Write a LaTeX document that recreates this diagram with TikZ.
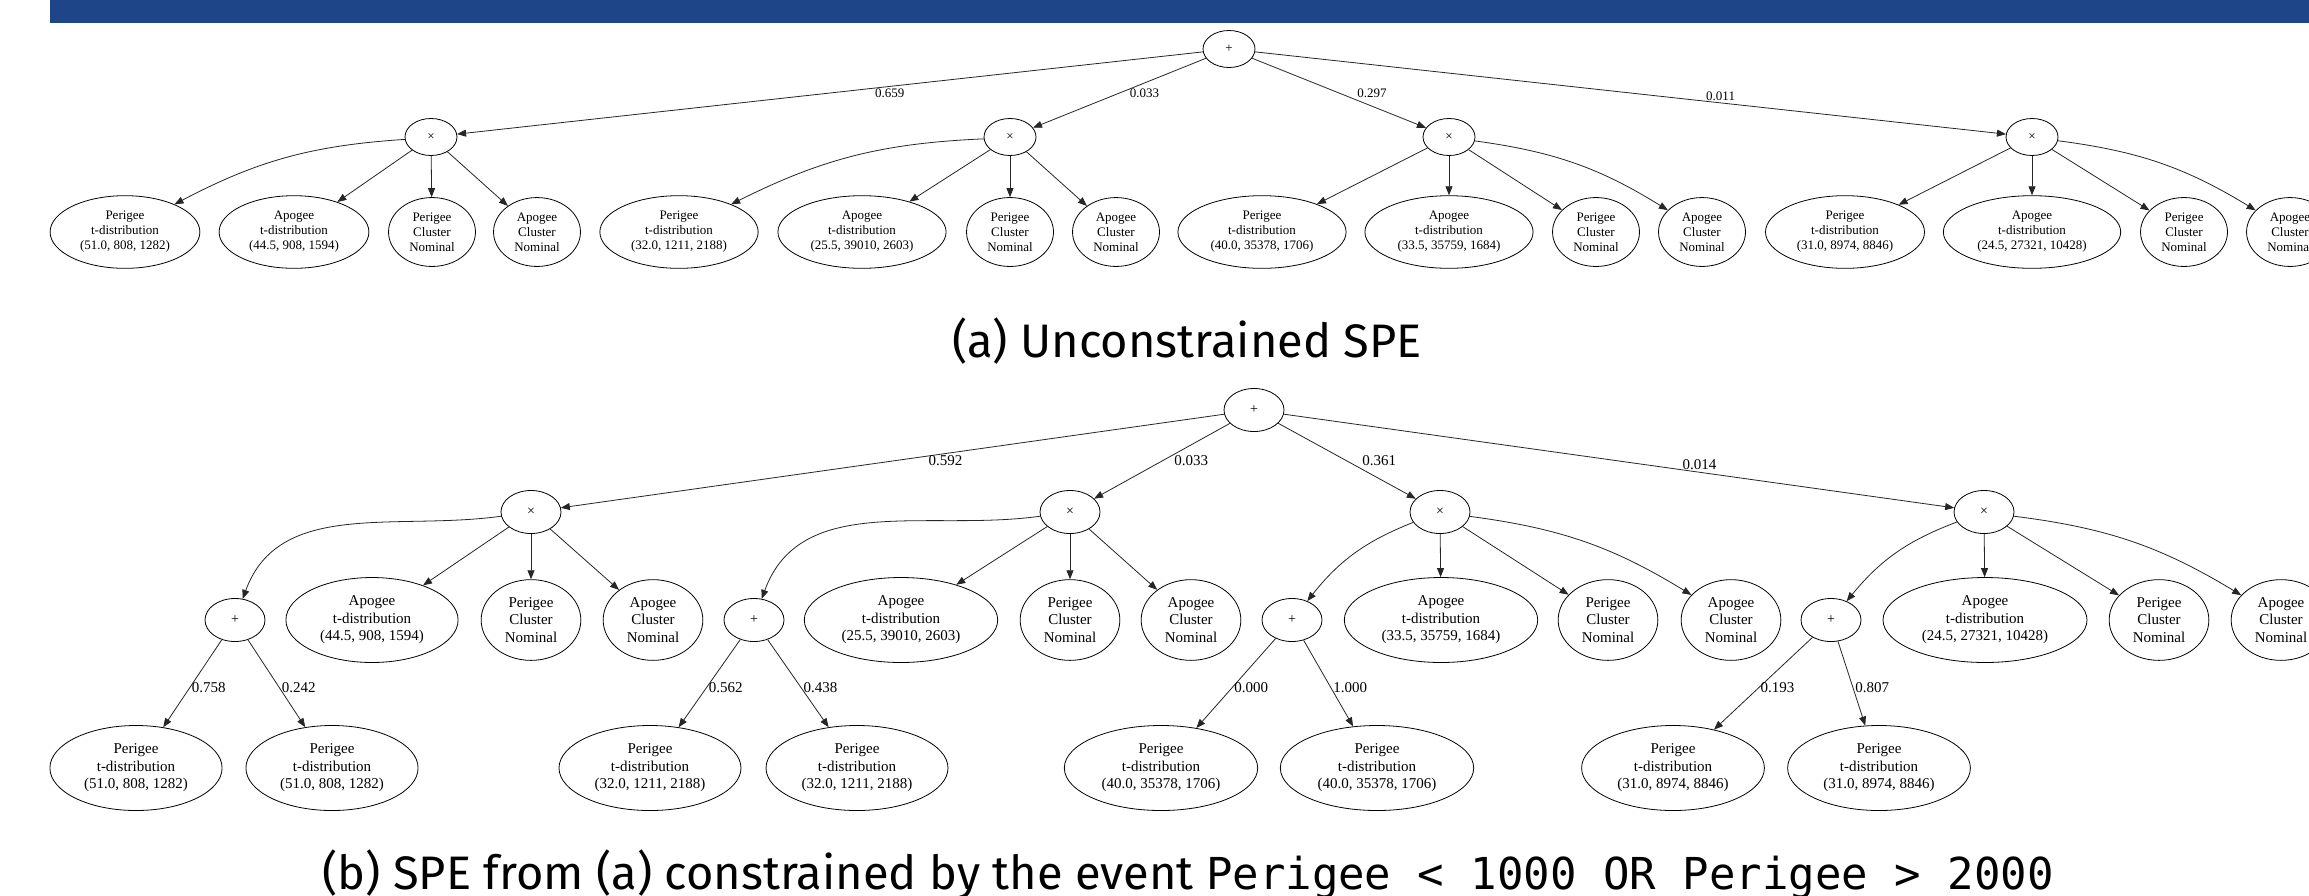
\documentclass[tikz,border=0pt]{standalone}
\usepackage{fontspec}
\setmainfont{Liberation Serif}
\setsansfont{Fira Sans}
\setmonofont{DejaVu Sans Mono}
\usetikzlibrary{arrows.meta, shapes.geometric}
\definecolor{barblue}{RGB}{31,69,137}

\begin{document}
\begin{tikzpicture}[
        x=1pt, y=-1pt,
        >={Triangle[length=9pt, width=7pt]},
        edg/.style={->, line width=0.8pt, draw=black!85},
        opa/.style={draw, ellipse, line width=0.8pt, minimum width=52pt, minimum height=37pt, inner sep=0pt, font=\fontsize{13}{15}\selectfont},
        leafa/.style={draw, ellipse, line width=0.8pt, align=center, inner xsep=8pt, inner ysep=5pt, font=\fontsize{13}{15}\selectfont},
        lbla/.style={font=\fontsize{13}{15}\selectfont, inner sep=2pt},
        opb/.style={opa, minimum width=60pt, minimum height=43pt, font=\fontsize{14}{16}\selectfont},
        leafb/.style={leafa, inner xsep=9pt, inner ysep=6pt, font=\fontsize{15}{17.5}\selectfont},
        lblb/.style={font=\fontsize{15}{17}\selectfont, inner sep=2pt},
        capt/.style={font=\sffamily\fontsize{47}{52}\selectfont, anchor=base, inner sep=0pt}
    ]
        \clip (0,0) rectangle (2309,895);
        \fill[white] (0,0) rectangle (2309,895);
        \fill[barblue] (50,0) rectangle (2309,23);

        % --- (a) unconstrained ---
        \node[opa] (suma) at (1229,49) {+};
        \node[opa] (proda1) at (431,137) {×};
        \node[opa] (proda2) at (1010,137) {×};
        \node[opa] (proda3) at (1449,137) {×};
        \node[opa] (proda4) at (2032,137) {×};

        \draw[edg] (suma) -- node[lbla, pos=0.42, below] {0.659} (proda1);
        \draw[edg] (suma) -- node[lbla, pos=0.5, right=8pt] {0.033} (proda2);
        \draw[edg] (suma) -- node[lbla, pos=0.5, right=16pt] {0.297} (proda3);
        \draw[edg] (suma) -- node[lbla, pos=0.62, above] {0.011} (proda4);

        \node[leafa] (a1pt) at (125,232) {Perigee\\t-distribution\\(51.0, 808, 1282)};
        \node[leafa] (a1at) at (294,232) {Apogee\\t-distribution\\(44.5, 908, 1594)};
        \node[leafa] (a1pc) at (432,232) {Perigee\\Cluster\\Nominal};
        \node[leafa] (a1ac) at (537,232) {Apogee\\Cluster\\Nominal};
        \node[leafa] (a2pt) at (679,232) {Perigee\\t-distribution\\(32.0, 1211, 2188)};
        \node[leafa] (a2at) at (862,232) {Apogee\\t-distribution\\(25.5, 39010, 2603)};
        \node[leafa] (a2pc) at (1010,232) {Perigee\\Cluster\\Nominal};
        \node[leafa] (a2ac) at (1116,232) {Apogee\\Cluster\\Nominal};
        \node[leafa] (a3pt) at (1262,232) {Perigee\\t-distribution\\(40.0, 35378, 1706)};
        \node[leafa] (a3at) at (1449,232) {Apogee\\t-distribution\\(33.5, 35759, 1684)};
        \node[leafa] (a3pc) at (1596,232) {Perigee\\Cluster\\Nominal};
        \node[leafa] (a3ac) at (1702,232) {Apogee\\Cluster\\Nominal};
        \node[leafa] (a4pt) at (1845,232) {Perigee\\t-distribution\\(31.0, 8974, 8846)};
        \node[leafa] (a4at) at (2032,232) {Apogee\\t-distribution\\(24.5, 27321, 10428)};
        \node[leafa] (a4pc) at (2184,232) {Perigee\\Cluster\\Nominal};
        \node[leafa] (a4ac) at (2290,232) {Apogee\\Cluster\\Nominal};

        \draw[edg] (proda1) to[bend right=12] (a1pt);
        \draw[edg] (proda1) -- (a1at);
        \draw[edg] (proda1) -- (a1pc);
        \draw[edg] (proda1) -- (a1ac);
        \draw[edg] (proda2) to[bend right=12] (a2pt);
        \draw[edg] (proda2) -- (a2at);
        \draw[edg] (proda2) -- (a2pc);
        \draw[edg] (proda2) -- (a2ac);
        \draw[edg] (proda3) -- (a3pt);
        \draw[edg] (proda3) -- (a3at);
        \draw[edg] (proda3) -- (a3pc);
        \draw[edg] (proda3) to[bend left=12] (a3ac);
        \draw[edg] (proda4) -- (a4pt);
        \draw[edg] (proda4) -- (a4at);
        \draw[edg] (proda4) -- (a4pc);
        \draw[edg] (proda4) to[bend left=12] (a4ac);

        \node[capt] (capa) at (1187,357) {(a) Unconstrained SPE};

        % --- (b) constrained ---
        \node[opb] (sumb) at (1254,410) {+};
        \node[opb] (prodb1) at (531,512) {×};
        \node[opb] (prodb2) at (1070,512) {×};
        \node[opb] (prodb3) at (1440,512) {×};
        \node[opb] (prodb4) at (1984,512) {×};

        \draw[edg] (sumb) -- node[lblb, pos=0.42, below] {0.592} (prodb1);
        \draw[edg] (sumb) -- node[lblb, pos=0.5, right=10pt] {0.033} (prodb2);
        \draw[edg] (sumb) -- node[lblb, pos=0.5, right=13pt] {0.361} (prodb3);
        \draw[edg] (sumb) -- node[lblb, pos=0.62, above] {0.014} (prodb4);

        \node[opb] (mixb1) at (235,620) {+};
        \node[leafb] (b1at) at (372,620) {Apogee\\t-distribution\\(44.5, 908, 1594)};
        \node[leafb] (b1pc) at (531,620) {Perigee\\Cluster\\Nominal};
        \node[leafb] (b1ac) at (653,620) {Apogee\\Cluster\\Nominal};
        \node[opb] (mixb2) at (754,620) {+};
        \node[leafb] (b2at) at (901,620) {Apogee\\t-distribution\\(25.5, 39010, 2603)};
        \node[leafb] (b2pc) at (1070,620) {Perigee\\Cluster\\Nominal};
        \node[leafb] (b2ac) at (1191,620) {Apogee\\Cluster\\Nominal};
        \node[opb] (mixb3) at (1292,620) {+};
        \node[leafb] (b3at) at (1441,620) {Apogee\\t-distribution\\(33.5, 35759, 1684)};
        \node[leafb] (b3pc) at (1608,620) {Perigee\\Cluster\\Nominal};
        \node[leafb] (b3ac) at (1731,620) {Apogee\\Cluster\\Nominal};
        \node[opb] (mixb4) at (1831,620) {+};
        \node[leafb] (b4at) at (1985,620) {Apogee\\t-distribution\\(24.5, 27321, 10428)};
        \node[leafb] (b4pc) at (2159,620) {Perigee\\Cluster\\Nominal};
        \node[leafb] (b4ac) at (2281,620) {Apogee\\Cluster\\Nominal};

        \draw[edg] (prodb1) to[out=188, in=70] (mixb1);
        \draw[edg] (prodb1) -- (b1at);
        \draw[edg] (prodb1) -- (b1pc);
        \draw[edg] (prodb1) -- (b1ac);
        \draw[edg] (prodb2) to[out=188, in=70] (mixb2);
        \draw[edg] (prodb2) -- (b2at);
        \draw[edg] (prodb2) -- (b2pc);
        \draw[edg] (prodb2) -- (b2ac);
        \draw[edg] (prodb3) to[bend right=15] (mixb3);
        \draw[edg] (prodb3) -- (b3at);
        \draw[edg] (prodb3) -- (b3pc);
        \draw[edg] (prodb3) to[bend left=12] (b3ac);
        \draw[edg] (prodb4) to[bend right=15] (mixb4);
        \draw[edg] (prodb4) -- (b4at);
        \draw[edg] (prodb4) -- (b4pc);
        \draw[edg] (prodb4) to[bend left=12] (b4ac);

        \node[leafb] (b1l) at (136,768) {Perigee\\t-distribution\\(51.0, 808, 1282)};
        \node[leafb] (b1r) at (332,768) {Perigee\\t-distribution\\(51.0, 808, 1282)};
        \node[leafb] (b2l) at (650,768) {Perigee\\t-distribution\\(32.0, 1211, 2188)};
        \node[leafb] (b2r) at (857,768) {Perigee\\t-distribution\\(32.0, 1211, 2188)};
        \node[leafb] (b3l) at (1161,768) {Perigee\\t-distribution\\(40.0, 35378, 1706)};
        \node[leafb] (b3r) at (1377,768) {Perigee\\t-distribution\\(40.0, 35378, 1706)};
        \node[leafb] (b4l) at (1673,768) {Perigee\\t-distribution\\(31.0, 8974, 8846)};
        \node[leafb] (b4r) at (1879,768) {Perigee\\t-distribution\\(31.0, 8974, 8846)};

        \draw[edg] (mixb1) -- node[lblb, pos=0.55, right] {0.758} (b1l);
        \draw[edg] (mixb1) -- node[lblb, pos=0.55, right] {0.242} (b1r);
        \draw[edg] (mixb2) -- node[lblb, pos=0.55, right] {0.562} (b2l);
        \draw[edg] (mixb2) -- node[lblb, pos=0.55, right] {0.438} (b2r);
        \draw[edg] (mixb3) -- node[lblb, pos=0.55, right] {0.000} (b3l);
        \draw[edg] (mixb3) -- node[lblb, pos=0.55, right] {1.000} (b3r);
        \draw[edg] (mixb4) -- node[lblb, pos=0.55, right] {0.193} (b4l);
        \draw[edg] (mixb4) -- node[lblb, pos=0.55, right] {0.807} (b4r);

        \node[capt] (capb) at (1188,889) {(b) SPE from (a) constrained by the event \texttt{\fontsize{44}{50}\selectfont Perigee < 1000 OR Perigee > 2000}};
    \end{tikzpicture}
\end{document}
